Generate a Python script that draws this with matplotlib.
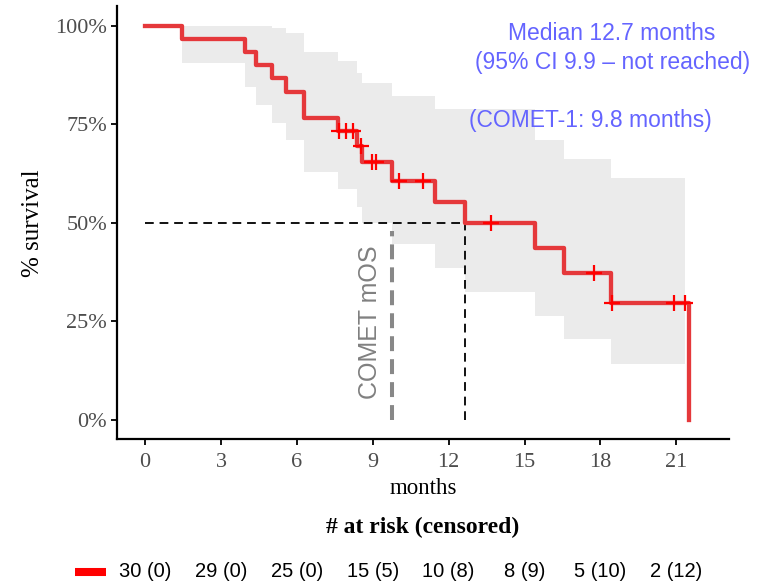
import matplotlib
matplotlib.use("Agg")
import matplotlib.pyplot as plt
import numpy as np

# Kaplan-Meier steps (months, % survival after the step)
event_t = [0, 1.45, 3.95, 4.38, 5.01, 5.57, 6.30, 7.62, 8.37, 8.56, 9.75, 11.46, 12.65, 15.42, 16.57, 18.41, 21.51]
surv = [100, 96.7, 93.3, 90.0, 86.7, 83.3, 76.7, 73.3, 69.5, 65.4, 60.7, 55.2, 50.0, 43.5, 37.3, 29.7, 0]

# censored patients (months)
cens_t = [7.68, 7.94, 8.23, 8.53, 8.96, 9.12, 10.05, 10.98, 13.66, 17.76, 18.45, 20.92, 21.34]

# 95% CI band
ci_t = [1.45, 3.95, 4.38, 5.01, 5.57, 6.30, 7.62, 8.37, 8.56, 9.75, 11.46, 12.65, 15.42, 16.57, 18.41, 21.34]
ci_up = [100, 100, 100, 99.5, 98.2, 93.4, 91.0, 88.0, 85.4, 82.3, 79.0, 79.0, 71.0, 66.2, 61.3, 61.3]
ci_lo = [90.6, 84.6, 80.0, 75.3, 71.0, 63.0, 58.7, 54.0, 50.0, 44.6, 38.5, 32.5, 26.3, 20.6, 14.1, 14.1]

median_os = 12.65
comet_mos = 9.75

risk_t = [0, 3, 6, 9, 12, 15, 18, 21]
risk_lbl = ["30 (0)", "29 (0)", "25 (0)", "15 (5)", "10 (8)", "8 (9)", "5 (10)", "2 (12)"]

serif = ["Liberation Serif", "DejaVu Serif"]
sans = ["Liberation Sans", "DejaVu Sans"]

fig = plt.figure(figsize=(7.71, 5.83), dpi=100)
ax = fig.add_axes([0.1514, 0.2465, 0.7941, 0.7427])

ax.fill_between(ci_t, ci_lo, ci_up, step="post", color="#ebebeb", lw=0)

# median / comparison reference lines
ax.plot([0, median_os], [50, 50], color="#111111", lw=1.4, ls=(0, (4.5, 3)))
ax.plot([median_os, median_os], [0, 50], color="#111111", lw=1.4, ls=(0, (4.5, 3)))
ax.plot([comet_mos, comet_mos], [0, 48], color="#888888", lw=2.9, ls=(0, (3.7, 2)))

ax.step(event_t, surv, where="post", color="#e5383b", lw=3.1)
cens_s = [surv[np.searchsorted(event_t, t, side="right") - 1] for t in cens_t]
ax.plot(cens_t, cens_s, ls="none", marker="+", ms=11, mew=1.6, color="red")

ax.text(8.89, 24.8, "COMET mOS", rotation=90, ha="center", va="center",
        fontsize=18, color="#808080", family=sans)
ax.text(18.46, 98.1, "Median 12.7 months", ha="center", va="center",
        fontsize=16.5, color="#6464ff", family=sans)
ax.text(18.46, 90.8, "(95% CI 9.9 \u2013 not reached)", ha="center", va="center",
        fontsize=16.5, color="#6464ff", family=sans)
ax.text(17.59, 76.1, "(COMET-1: 9.8 months)", ha="center", va="center",
        fontsize=16.5, color="#6464ff", family=sans)

ax.set_xlim(-1.12, 23.08)
ax.set_ylim(-5, 105)
ax.set_xticks(risk_t)
ax.set_yticks([0, 25, 50, 75, 100])
ax.set_yticklabels(["0%", "25%", "50%", "75%", "100%"])
for s in ["top", "right"]:
    ax.spines[s].set_visible(False)
for s in ["left", "bottom"]:
    ax.spines[s].set_linewidth(1.6)
ax.tick_params(length=4, width=1.3, colors="black", labelcolor="#4d4d4d", labelsize=16)
ax.tick_params(axis="x", pad=6)
ax.tick_params(axis="y", pad=3)
for lab in ax.get_xticklabels() + ax.get_yticklabels():
    lab.set_family(serif)

ax.set_xlabel("months", fontsize=16.5, family=serif, labelpad=4)
ax.set_ylabel("% survival", fontsize=18, family=serif, labelpad=8)

# number at risk table
fig.text(0.5487, 0.096, "# at risk (censored)", ha="center", va="center",
         fontsize=17, fontweight="bold", family=serif)
tr = ax.get_xaxis_transform()
for t, lbl in zip(risk_t, risk_lbl):
    ax.text(t, -0.306, lbl, transform=tr, ha="center", va="center",
            fontsize=14.5, family=sans, clip_on=False)
ax.plot([-2.77, -1.55], [-0.306, -0.306], transform=tr, color="red", lw=5.8,
        solid_capstyle="butt", clip_on=False)

fig.savefig("out.png", dpi=100)
